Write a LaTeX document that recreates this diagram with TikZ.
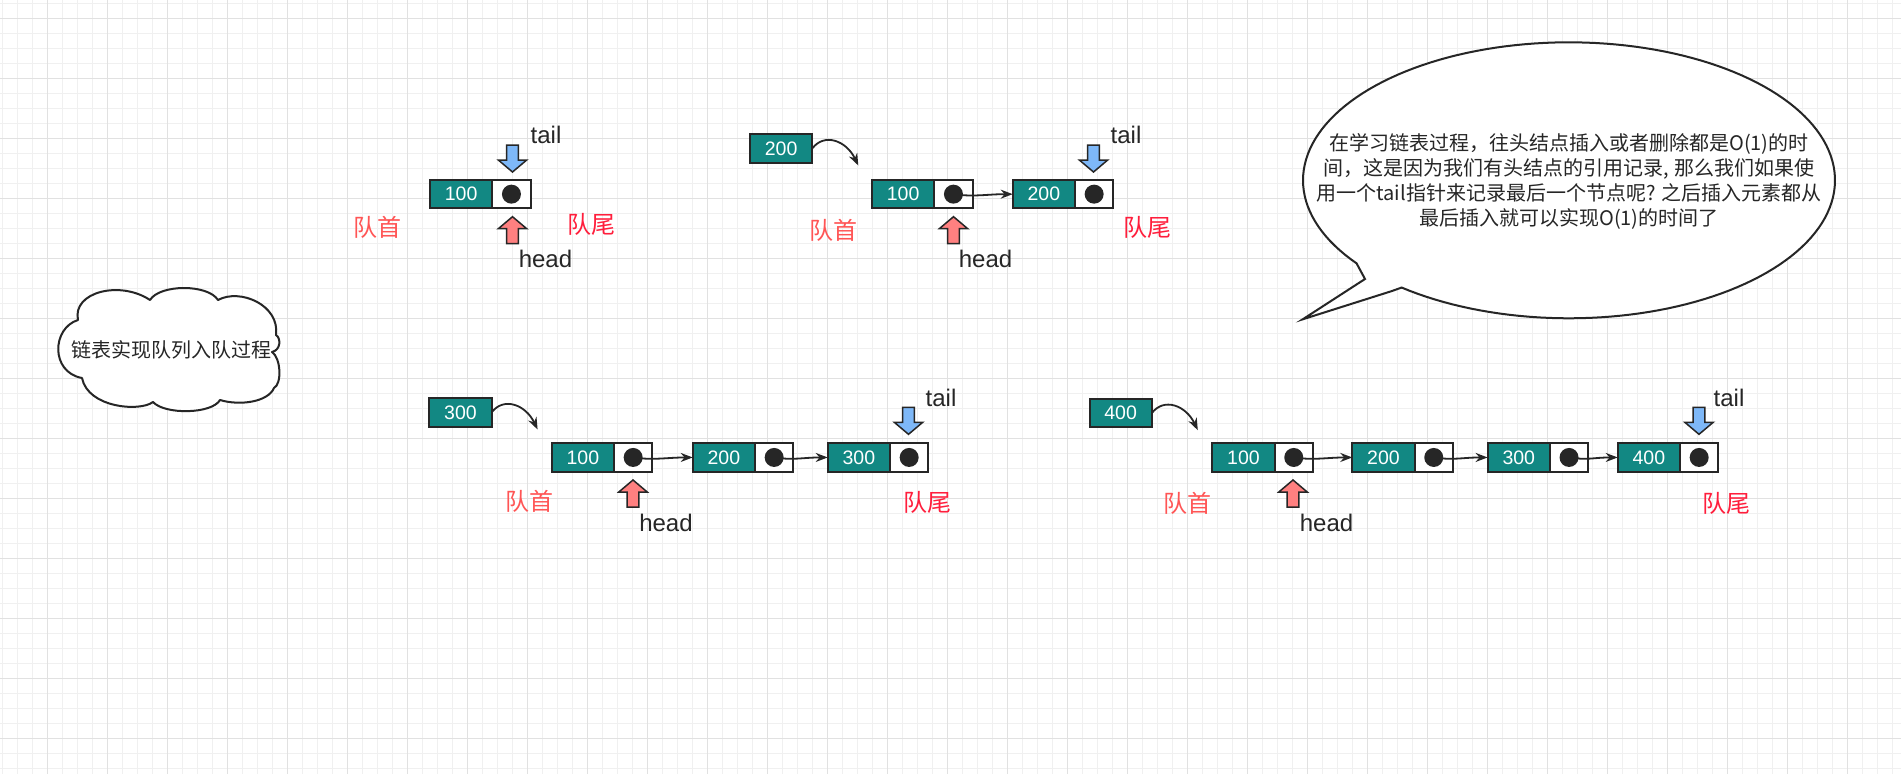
\documentclass[tikz,border=0pt]{standalone}
\usepackage{fontspec}
\setmainfont{Liberation Sans}
\newfontfamily\cjk{Noto Sans CJK SC}
\usetikzlibrary{arrows.meta}
\definecolor{teal1}{RGB}{18,136,131}
\definecolor{ink}{RGB}{38,38,38}
\definecolor{gridmin}{RGB}{240,240,240}
\definecolor{gridmaj}{RGB}{225,225,225}
\definecolor{bluef}{RGB}{126,184,248}
\definecolor{redf}{RGB}{255,128,128}
\definecolor{redA}{RGB}{255,85,85}
\definecolor{redB}{RGB}{255,30,60}
\newcommand{\qbox}[4]{%
  \node[valbox] (#1v) at (#2,#3) {#4};
  \node[ptrbox] (#1p) at (#1v.north east) {};
  \node[dotc] (#1c) at (#1p.center) {};
}
\newcommand{\downarr}[2]{%
  \draw[barrow] (#1-5.8,#2) -- (#1+5.8,#2) -- (#1+5.8,#2+15) -- (#1+14.2,#2+15) -- (#1,#2+27) -- (#1-14.2,#2+15) -- (#1-5.8,#2+15) -- cycle;}
\newcommand{\uparr}[2]{%
  \draw[rarrow] (#1,#2) -- (#1+14.2,#2+12) -- (#1+5.8,#2+12) -- (#1+5.8,#2+27) -- (#1-5.8,#2+27) -- (#1-5.8,#2+12) -- (#1-14.2,#2+12) -- cycle;}
\begin{document}
\begin{tikzpicture}[x=1pt,y=-1pt,
  valbox/.style={draw=ink, line width=2pt, fill=teal1, minimum width=62.3pt, minimum height=28.3pt, inner sep=0pt, outer sep=0pt, text=white, font=\fontsize{19.5}{19.5}\selectfont, anchor=north west},
  ptrbox/.style={draw=ink, line width=2pt, fill=white, minimum width=38.3pt, minimum height=28.3pt, inner sep=0pt, outer sep=0pt, anchor=north west},
  dotc/.style={circle, fill=ink, minimum size=19pt, inner sep=0pt},
  lbl/.style={text=ink, font=\fontsize{24}{24}\selectfont, inner sep=0pt},
  qhead/.style={text=redA, font=\cjk\fontsize{24}{24}\selectfont, inner sep=0pt},
  qtail/.style={text=redB, font=\cjk\fontsize{24}{24}\selectfont, inner sep=0pt},
  conn/.style={draw=ink, line width=1.8pt, -{Stealth[length=12pt,width=9pt]}},
  barrow/.style={draw=ink, line width=1.5pt, fill=bluef},
  rarrow/.style={draw=ink, line width=1.5pt, fill=redf},
  shapeline/.style={draw=ink, line width=2pt, fill=white, line join=miter}
]
\useasboundingbox (0,0) rectangle (1901,774);
\fill[white] (0,0) rectangle (1901,774);
% grid
\foreach \i in {0,...,126} \draw[gridmin, line width=1pt] (2.5+15*\i,0) -- (2.5+15*\i,774);
\foreach \j in {0,...,51} \draw[gridmin, line width=1pt] (0,3.3+15*\j) -- (1901,3.3+15*\j);
\foreach \i in {0,...,30} \draw[gridmaj, line width=1pt] (47.5+60*\i,0) -- (47.5+60*\i,774);
\foreach \j in {0,...,12} \draw[gridmaj, line width=1pt] (0,18.3+60*\j) -- (1901,18.3+60*\j);

% ---------- cloud ----------
\draw[shapeline, line join=round] (78,320) .. controls (72,292) and (120,280) .. (150,300)
  .. controls (160,284) and (208,284) .. (218,300)
  .. controls (240,288) and (280,305) .. (276,335)
  .. controls (281,338) and (281,350) .. (272,352)
  .. controls (281,358) and (282,384) .. (274,388)
  .. controls (268,402) and (240,406) .. (220,400)
  .. controls (212,414) and (165,415) .. (153,402)
  .. controls (140,412) and (88,408) .. (82,378)
  .. controls (50,372) and (52,328) .. (78,320) -- cycle;
\node[text=ink, font=\cjk\fontsize{20}{20}\selectfont, inner sep=0pt] (cloudtxt) at (171,350) {链表实现队列入队过程};

% ---------- bubble ----------
\coordinate (btip) at (1302.7,319.3);
\draw[shapeline] (btip) -- (1365,279) -- plot[domain=-217:129, samples=160, variable=\t] ({1569+266*cos(\t)},{180.3+138*sin(\t)}) -- (1392,291) -- cycle;
\node[text=ink, font=\cjk\fontsize{20}{25}\selectfont, align=center, inner sep=0pt] (bubtxt) at (1569,181)
 {在学习链表过程，往头结点插入或者删除都是O(1)的时\\间，这是因为我们有头结点的引用记录, 那么我们如果使\\用一个tail指针来记录最后一个节点呢? 之后插入元素都从\\最后插入就可以实现O(1)的时间了};

% ---------- diagram 1 ----------
\qbox{a1}{430}{180}{100}
\downarr{512.5}{145}
\uparr{512.5}{216.7}
\node[lbl] (t1) at (546,135) {tail};
\node[lbl] (h1) at (545.5,259) {head};
\node[qhead] (qh1) at (377.5,227.5) {队首};
\node[qtail] (qt1) at (591,224) {队尾};

% ---------- diagram 2 ----------
\node[valbox] (s2) at (750,134.3) {200};
\coordinate (e2) at (858.3,165.5);
\draw[conn] (s2.east) .. controls (824.3,132.5) and (846.3,140.5) .. (e2);
\qbox{b21}{872}{180}{100}
\qbox{b22}{1012.7}{180}{200}
\draw[conn] (b21c.center) .. controls +(20,3) and +(-25,0) .. (b22v.west);
\downarr{1093.5}{145}
\uparr{953.5}{216.7}
\node[lbl] (t2) at (1126,135) {tail};
\node[lbl] (h2) at (985.5,259) {head};
\node[qhead] (qh2) at (833.5,230) {队首};
\node[qtail] (qt2) at (1147.5,227.5) {队尾};

% ---------- diagram 3 ----------
\node[valbox] (s3) at (429.3,398.3) {300};
\coordinate (e3) at (537.6,429.5);
\draw[conn] (s3.east) .. controls (503.6,396.5) and (525.6,404.5) .. (e3);
\qbox{c31}{551.7}{443.3}{100}
\qbox{c32}{692.7}{443.3}{200}
\qbox{c33}{827.7}{443.3}{300}
\draw[conn] (c31c.center) .. controls +(20,3) and +(-25,0) .. (c32v.west);
\draw[conn] (c32c.center) .. controls +(20,3) and +(-25,0) .. (c33v.west);
\downarr{908.5}{407.3}
\uparr{633}{480}
\node[lbl] (t3) at (941,398) {tail};
\node[lbl] (h3) at (666,522.5) {head};
\node[qhead] (qh3) at (529.3,501) {队首};
\node[qtail] (qt3) at (927.5,502) {队尾};

% ---------- diagram 4 ----------
\node[valbox] (s4) at (1089.5,399) {400};
\coordinate (e4) at (1197.8,430.2);
\draw[conn] (s4.east) .. controls (1163.8,397.2) and (1185.8,405.2) .. (e4);
\qbox{d41}{1212.3}{443.3}{100}
\qbox{d42}{1352.3}{443.3}{200}
\qbox{d43}{1487.6}{443.3}{300}
\qbox{d44}{1617.7}{443.3}{400}
\draw[conn] (d41c.center) .. controls +(20,3) and +(-25,0) .. (d42v.west);
\draw[conn] (d42c.center) .. controls +(20,3) and +(-25,0) .. (d43v.west);
\draw[conn] (d43c.center) .. controls +(20,3) and +(-25,0) .. (d44v.west);
\downarr{1699}{407.3}
\uparr{1293}{480}
\node[lbl] (t4) at (1729,398) {tail};
\node[lbl] (h4) at (1326.5,522.5) {head};
\node[qhead] (qh4) at (1187.3,503) {队首};
\node[qtail] (qt4) at (1726,503) {队尾};
\end{tikzpicture}
\end{document}
